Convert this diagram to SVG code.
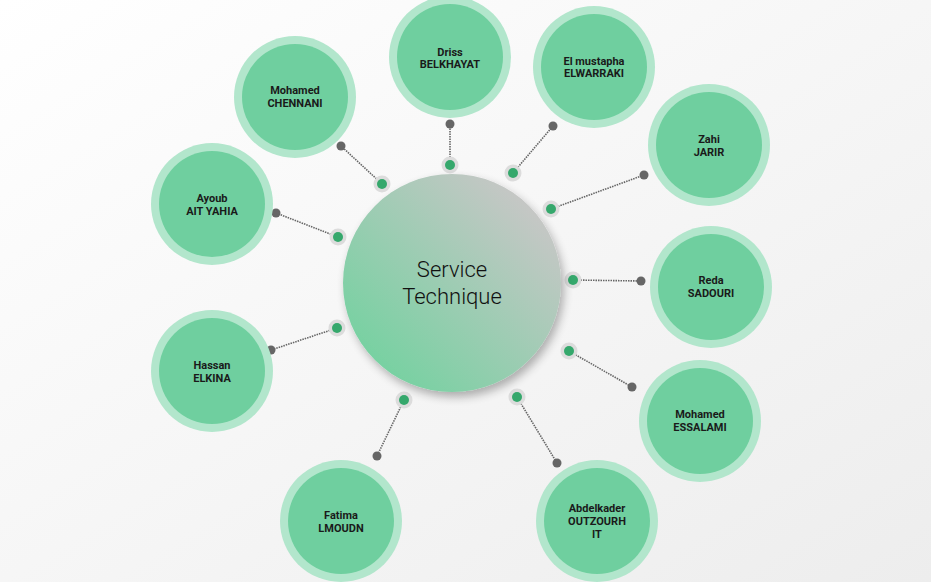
<svg xmlns="http://www.w3.org/2000/svg" width="931" height="582" viewBox="0 0 931 582">
<defs>
<linearGradient id="bg" x1="0" y1="0" x2="1" y2="1">
<stop offset="0" stop-color="#ffffff"/><stop offset="1" stop-color="#ededed"/>
</linearGradient>
<linearGradient id="cg" x1="0.15" y1="0.85" x2="0.85" y2="0.15">
<stop offset="0" stop-color="#78d1a2"/><stop offset="1" stop-color="#c5c7c5"/>
</linearGradient>
<filter id="sh" x="-30%" y="-30%" width="160%" height="160%">
<feGaussianBlur in="SourceAlpha" stdDeviation="5"/>
<feOffset dx="3" dy="5"/>
<feComponentTransfer><feFuncA type="linear" slope="0.3"/></feComponentTransfer>
<feMerge><feMergeNode/><feMergeNode in="SourceGraphic"/></feMerge>
</filter>
<style>
.ring{fill:#b2e6cc}
.core{fill:#6fcf9f}
.t{font-family:Roboto,"Liberation Sans",sans-serif;font-weight:bold;font-size:11px;fill:#1a1a1a;text-anchor:middle}
.ln{stroke:#666;stroke-width:1.6;stroke-dasharray:1.5 1;fill:none}
.halo{fill:#dcdcdc}
.gd{fill:#35a86c}
.kd{fill:#666}
</style>
</defs>
<rect width="931" height="582" fill="url(#bg)"/>
<g id="connectors">
<line class="ln" x1="450" y1="165" x2="450" y2="124"/>
<line class="ln" x1="513" y1="173" x2="553" y2="126"/>
<line class="ln" x1="382" y1="184" x2="341" y2="146"/>
<line class="ln" x1="551" y1="209" x2="644" y2="175"/>
<line class="ln" x1="338" y1="237" x2="276" y2="213"/>
<line class="ln" x1="573" y1="280" x2="641" y2="281"/>
<line class="ln" x1="337" y1="328" x2="271" y2="350"/>
<line class="ln" x1="569" y1="351" x2="632" y2="387"/>
<line class="ln" x1="404" y1="400" x2="377" y2="456"/>
<line class="ln" x1="517" y1="397" x2="557" y2="463"/>
<g>
<circle class="kd" cx="450" cy="124" r="4.5"/><circle class="kd" cx="553" cy="126" r="4.5"/>
<circle class="kd" cx="341" cy="146" r="4.5"/><circle class="kd" cx="644" cy="175" r="4.5"/>
<circle class="kd" cx="276" cy="213" r="4.5"/><circle class="kd" cx="641" cy="281" r="4.5"/>
<circle class="kd" cx="271" cy="350" r="4.5"/><circle class="kd" cx="632" cy="387" r="4.5"/>
<circle class="kd" cx="377" cy="456" r="4.5"/><circle class="kd" cx="557" cy="463" r="4.5"/>
</g>
<g>
<circle class="halo" cx="450" cy="165" r="8.5"/><circle class="gd" cx="450" cy="165" r="5"/>
<circle class="halo" cx="513" cy="173" r="8.5"/><circle class="gd" cx="513" cy="173" r="5"/>
<circle class="halo" cx="382" cy="184" r="8.5"/><circle class="gd" cx="382" cy="184" r="5"/>
<circle class="halo" cx="551" cy="209" r="8.5"/><circle class="gd" cx="551" cy="209" r="5"/>
<circle class="halo" cx="338" cy="237" r="8.5"/><circle class="gd" cx="338" cy="237" r="5"/>
<circle class="halo" cx="573" cy="280" r="8.5"/><circle class="gd" cx="573" cy="280" r="5"/>
<circle class="halo" cx="337" cy="328" r="8.5"/><circle class="gd" cx="337" cy="328" r="5"/>
<circle class="halo" cx="569" cy="351" r="8.5"/><circle class="gd" cx="569" cy="351" r="5"/>
<circle class="halo" cx="404" cy="400" r="8.5"/><circle class="gd" cx="404" cy="400" r="5"/>
<circle class="halo" cx="517" cy="397" r="8.5"/><circle class="gd" cx="517" cy="397" r="5"/>
</g>
</g>
<g id="center">
<circle cx="452" cy="283" r="109" fill="url(#cg)" filter="url(#sh)"/>
<text x="452" y="277" font-family="Roboto,'Liberation Sans',sans-serif" font-weight="300" font-size="22" fill="#111" text-anchor="middle">Service</text>
<text x="452" y="304" font-family="Roboto,'Liberation Sans',sans-serif" font-weight="300" font-size="22" fill="#111" text-anchor="middle">Technique</text>
</g>
<g id="n-driss"><circle class="ring" cx="450" cy="57" r="61"/><circle class="core" cx="450" cy="57" r="53"/>
<text class="t" x="450" y="56" font-size="9">Driss</text><text class="t" x="450" y="68" font-size="9.5">BELKHAYAT</text></g>
<g id="n-elmustapha"><circle class="ring" cx="594" cy="67" r="61"/><circle class="core" cx="594" cy="67" r="53"/>
<text class="t" x="594" y="65" font-size="9">El mustapha</text><text class="t" x="594" y="77" font-size="9">ELWARRAKI</text></g>
<g id="n-chennani"><circle class="ring" cx="295" cy="97" r="61"/><circle class="core" cx="295" cy="97" r="53"/>
<text class="t" x="295" y="94">Mohamed</text><text class="t" x="295" y="107">CHENNANI</text></g>
<g id="n-zahi"><circle class="ring" cx="709" cy="145" r="61"/><circle class="core" cx="709" cy="145" r="53"/>
<text class="t" x="709" y="143">Zahi</text><text class="t" x="709" y="156">JARIR</text></g>
<g id="n-ayoub"><circle class="ring" cx="212" cy="204" r="61"/><circle class="core" cx="212" cy="204" r="53"/>
<text class="t" x="212" y="202">Ayoub</text><text class="t" x="212" y="215">AIT YAHIA</text></g>
<g id="n-reda"><circle class="ring" cx="711" cy="287" r="61"/><circle class="core" cx="711" cy="287" r="53"/>
<text class="t" x="711" y="284">Reda</text><text class="t" x="711" y="297">SADOURI</text></g>
<g id="n-hassan"><circle class="ring" cx="212" cy="371" r="61"/><circle class="core" cx="212" cy="371" r="53"/>
<text class="t" x="212" y="369">Hassan</text><text class="t" x="212" y="382">ELKINA</text></g>
<g id="n-essalami"><circle class="ring" cx="700" cy="421" r="61"/><circle class="core" cx="700" cy="421" r="53"/>
<text class="t" x="700" y="418">Mohamed</text><text class="t" x="700" y="431">ESSALAMI</text></g>
<g id="n-fatima"><circle class="ring" cx="341" cy="521" r="61"/><circle class="core" cx="341" cy="521" r="53"/>
<text class="t" x="341" y="519">Fatima</text><text class="t" x="341" y="532">LMOUDN</text></g>
<g id="n-abdelkader"><circle class="ring" cx="597" cy="521" r="61"/><circle class="core" cx="597" cy="521" r="53"/>
<text class="t" x="597" y="512">Abdelkader</text><text class="t" x="597" y="525">OUTZOURH</text><text class="t" x="597" y="538">IT</text></g>
</svg>
